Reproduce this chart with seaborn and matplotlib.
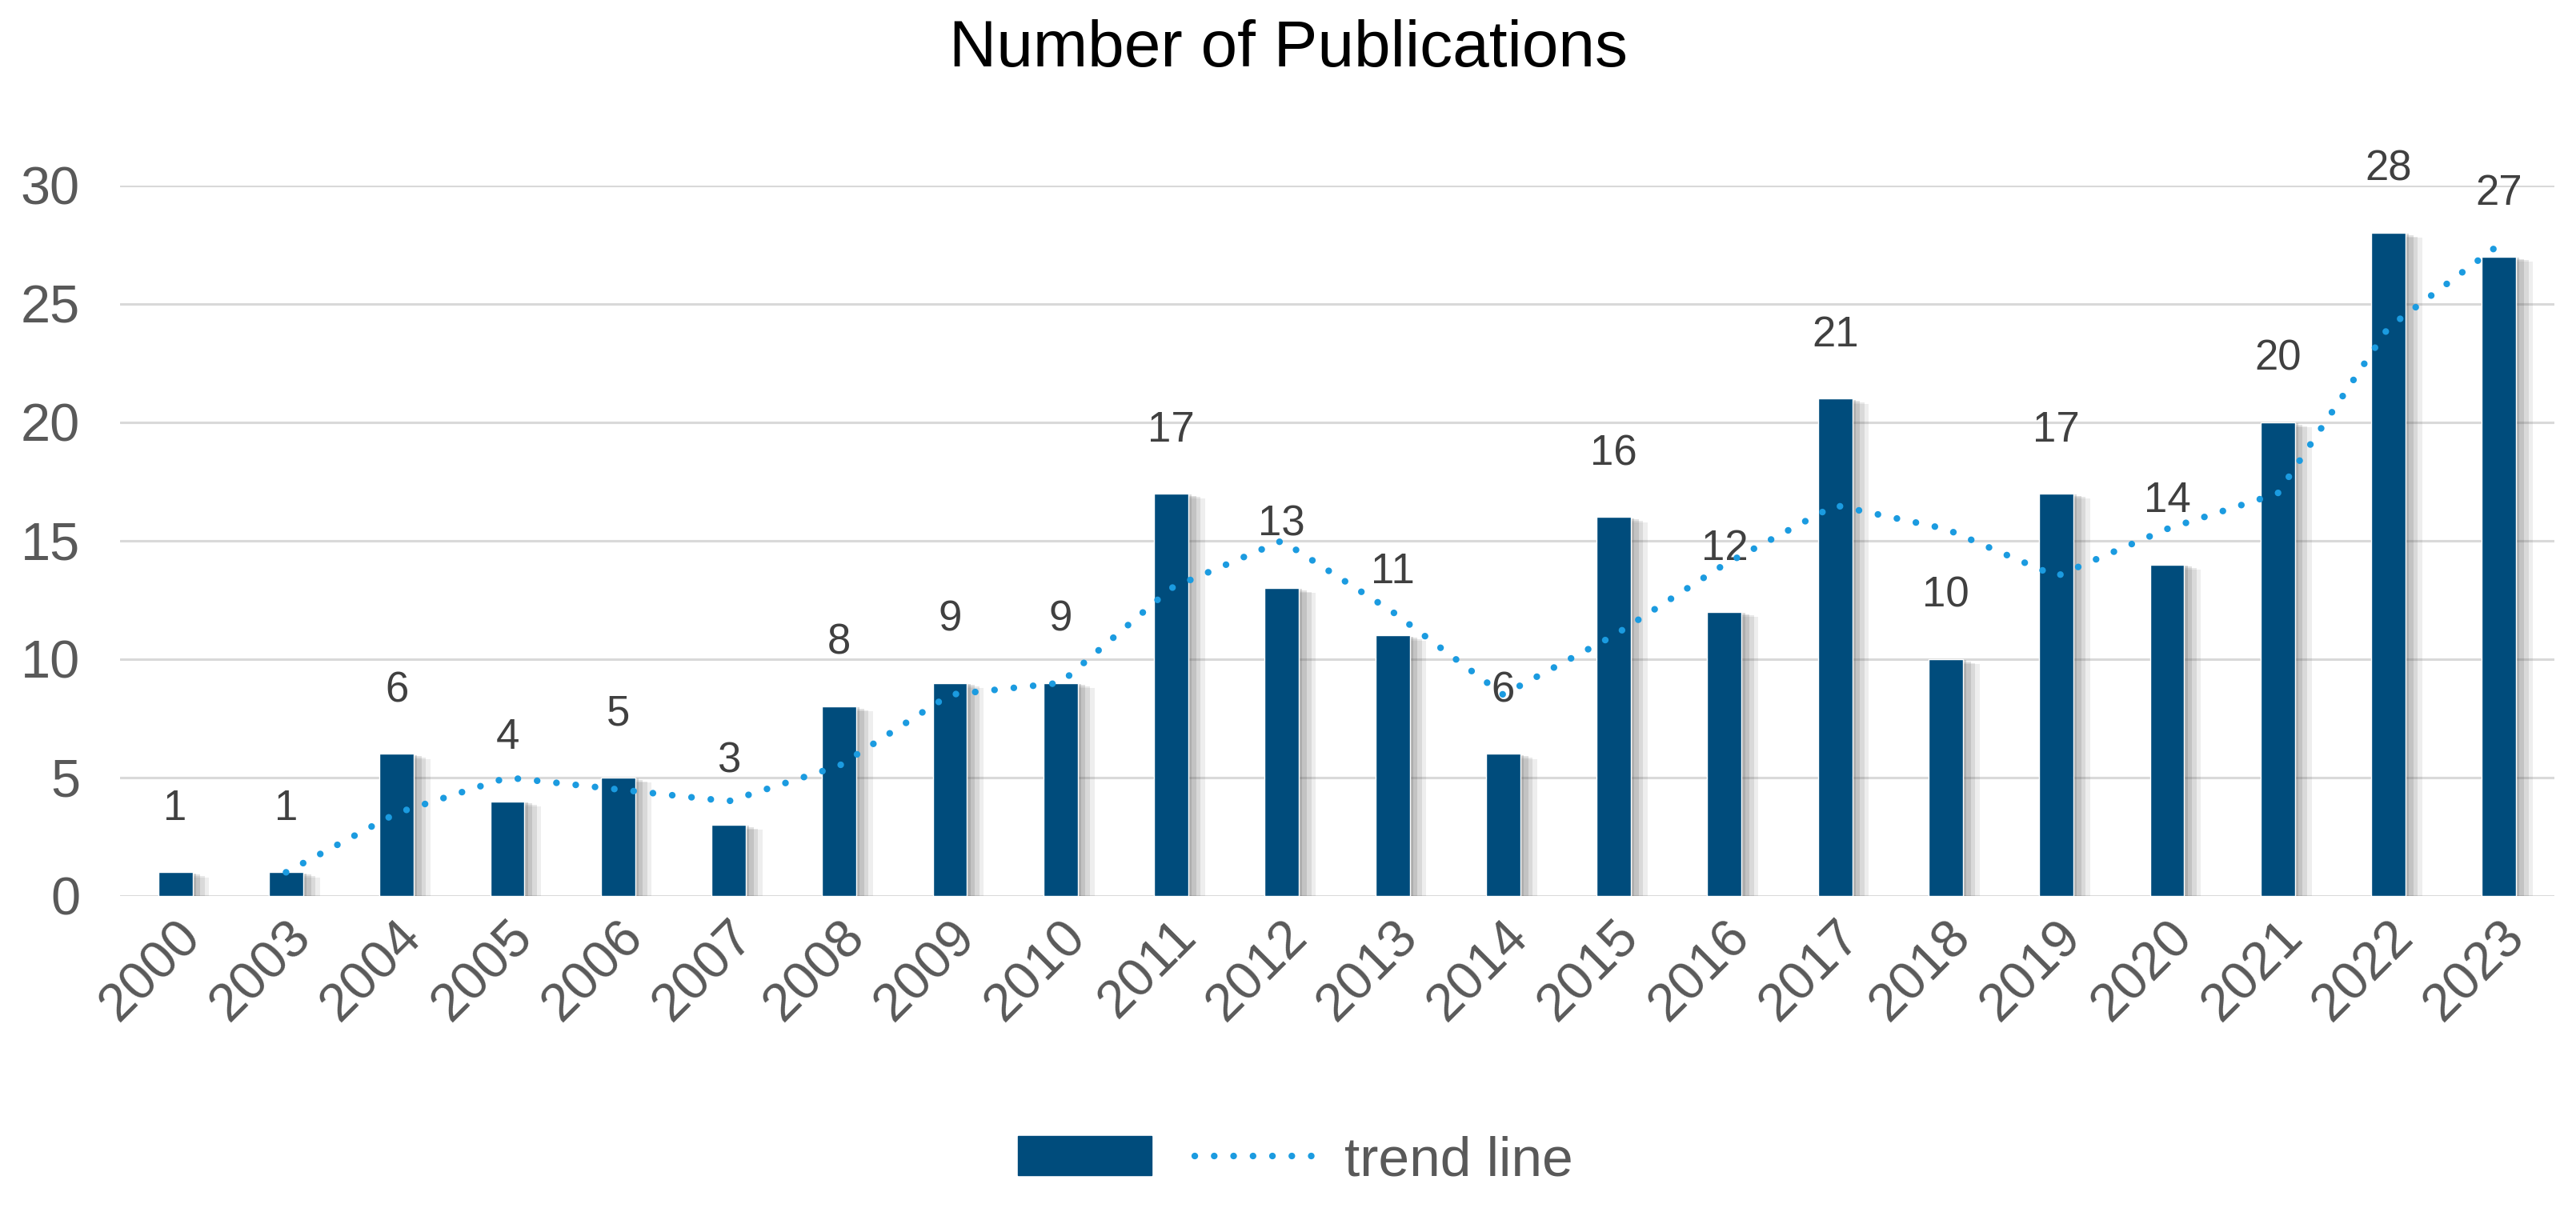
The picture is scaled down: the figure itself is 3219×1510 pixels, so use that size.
import numpy as np
import pandas as pd
import matplotlib
matplotlib.use("Agg")
import matplotlib.pyplot as plt
import matplotlib.patheffects as pe
from matplotlib.patches import Patch
from matplotlib.lines import Line2D
import seaborn as sns

# data
years = ["2000", "2003", "2004", "2005", "2006", "2007", "2008", "2009", "2010", "2011", "2012",
         "2013", "2014", "2015", "2016", "2017", "2018", "2019", "2020", "2021", "2022", "2023"]
counts = [1, 1, 6, 4, 5, 3, 8, 9, 9, 17, 13, 11, 6, 16, 12, 21, 10, 17, 14, 20, 28, 27]
# trend line (2-period moving average as drawn in the chart)
trend = [np.nan, 1, 3.5, 5, 4.5, 4, 5.5, 8.5, 9, 13, 15, 12, 8.5, 11, 14, 16.5, 15.5, 13.5,
         15.5, 17, 24, 27.5]

BAR = "#004C7C"
LINE = "#1B9BE0"
TXT = "#595959"
DOTS = (0, (0.01, 2.9))

sns.set_style("white")
plt.rcParams["font.family"] = ["Liberation Sans", "DejaVu Sans"]

df = pd.DataFrame({"year": years, "count": counts, "trend": trend})
df["pos"] = np.arange(len(df))

fig = plt.figure(figsize=(32.19, 15.10), dpi=100)
ax = fig.add_axes([0.0466, 0.2583, 0.9450, 0.5881])

sns.barplot(data=df, x="year", y="count", color=BAR, width=0.31, saturation=1, ax=ax, zorder=3)
# soft drop shadow to the right, a few faint layers
shadow = [pe.SimplePatchShadow(offset=(o, -o * 0.3), shadow_rgbFace="#606060", alpha=a)
          for o, a in [(15, 0.10), (11, 0.14), (7, 0.18), (3, 0.22)]]
for bar in ax.patches:
    bar.set_path_effects(shadow + [pe.Normal()])

ax.bar_label(ax.containers[0], labels=[str(c) for c in counts], padding=39,
             fontsize=38, color="#404040")

sns.lineplot(data=df, x="pos", y="trend", color=LINE, linewidth=6,
             linestyle=DOTS, dash_capstyle="round", ax=ax, zorder=4)

ax.set_xlim(-0.5, len(years) - 0.5)
ax.set_ylim(0, 30)
ax.set_yticks([0, 5, 10, 15, 20, 25, 30])
ax.set_xticks(df["pos"])
ax.set_xticklabels(years, rotation=45, ha="right", rotation_mode="anchor")
ax.tick_params(axis="x", labelsize=48, colors=TXT, length=0, pad=14)
ax.tick_params(axis="y", labelsize=48, colors=TXT, length=0, pad=36)
ax.set_xlabel("")
ax.set_ylabel("")
ax.grid(axis="y", color="#D9D9D9", linewidth=2.2, zorder=0)
ax.set_axisbelow(True)
sns.despine(ax=ax, left=True, bottom=True)

fig.suptitle("Number of Publications", fontsize=59, color="black", y=0.959, va="center")

handles = [Patch(facecolor=BAR, edgecolor=BAR, label=" "),
           Line2D([], [], color=LINE, linewidth=6, linestyle=DOTS,
                  dash_capstyle="round", label="trend line")]
fig.legend(handles=handles, loc="center", bbox_to_anchor=(0.503, 0.039), ncol=2, frameon=False,
           fontsize=50, labelcolor=TXT, handlelength=2.4, handleheight=0.7,
           handletextpad=0.3, columnspacing=0.2)

fig.savefig("out.png", dpi=100)
